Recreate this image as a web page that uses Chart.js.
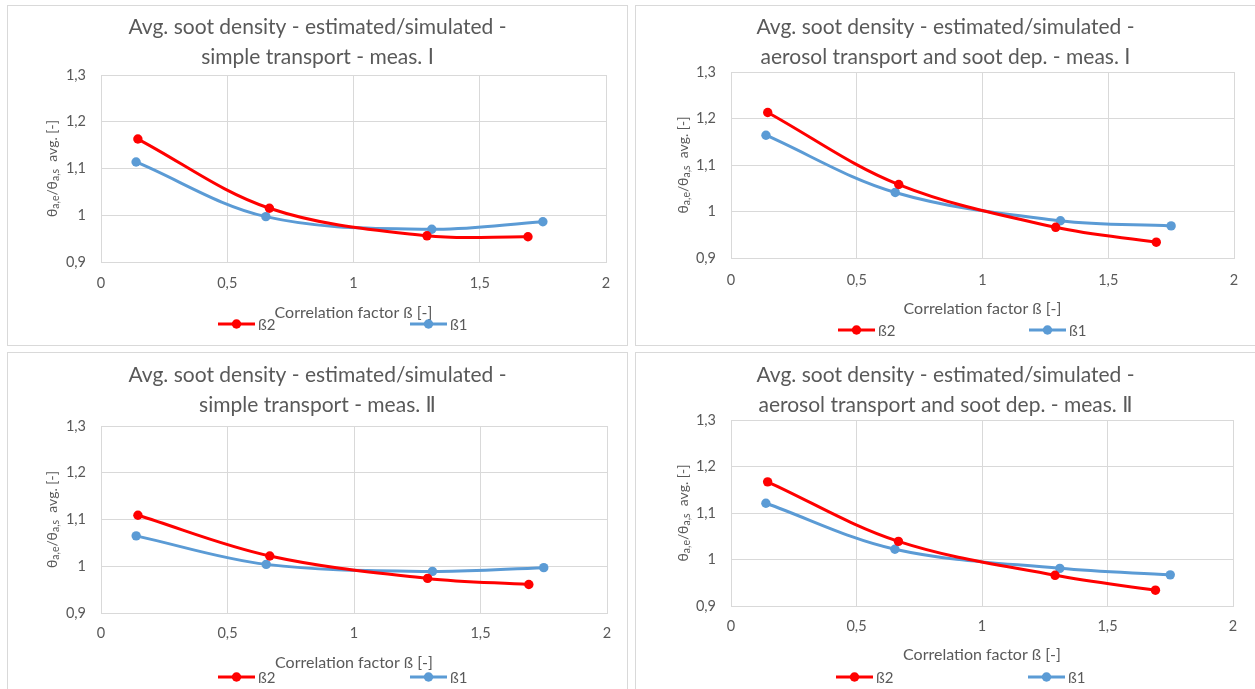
<!DOCTYPE html>
<html>
<head>
<meta charset="utf-8">
<script src="https://cdn.jsdelivr.net/npm/chart.js@4.4.0/dist/chart.umd.min.js"></script>
<style>
  html, body { margin: 0; padding: 0; background: #fff; overflow: hidden; width: 1255px; height: 689px; }
  .panel { position: absolute; border: 1px solid #d9d9d9; background: #fff; box-sizing: border-box; }
  .panel canvas { position: absolute; left: 0; top: 0; }
</style>
</head>
<body>
<div class="panel" style="left:7px;top:5px;width:621px;height:341px"><canvas id="c1" width="619" height="339"></canvas></div>
<div class="panel" style="left:635px;top:5px;width:622px;height:341px"><canvas id="c2" width="619" height="339"></canvas></div>
<div class="panel" style="left:7px;top:352px;width:621px;height:345px"><canvas id="c3" width="619" height="339"></canvas></div>
<div class="panel" style="left:635px;top:352px;width:622px;height:345px"><canvas id="c4" width="619" height="339"></canvas></div>
<script>
// Correlation factor ß at which each series was evaluated
const betaX_b2 = [0.146, 0.667, 1.291, 1.691];
const betaX_b1 = [0.139, 0.653, 1.310, 1.750];

// Ratio estimated / simulated average soot density
const simpleI_b2   = [1.163, 1.015, 0.956, 0.954];
const simpleI_b1   = [1.114, 0.997, 0.970, 0.986];
const aerosolI_b2  = [1.213, 1.058, 0.966, 0.934];
const aerosolI_b1  = [1.164, 1.041, 0.980, 0.969];
const simpleII_b2  = [1.109, 1.022, 0.974, 0.961];
const simpleII_b1  = [1.065, 1.004, 0.989, 0.997];
const aerosolII_b2 = [1.167, 1.039, 0.966, 0.934];
const aerosolII_b1 = [1.121, 1.022, 0.981, 0.967];

// Series and axis labels
const seriesNames = ['ß2', 'ß1'];
const titleLine1 = 'Avg. soot density - estimated/simulated -';
const titleLines2 = [
  'simple transport - meas. Ⅰ',
  'aerosol transport and soot dep. - meas. Ⅰ',
  'simple transport - meas. Ⅱ',
  'aerosol transport and soot dep. - meas. Ⅱ'
];
const xAxisTitle = 'Correlation factor ß [-]';
const yTitleParts = [
  { t: 'θ' }, { t: 'a,e', sub: true }, { t: '/θ' }, { t: 'a,s', sub: true }, { t: '  avg. [-]' }
];
const xRange = [0, 2, 0.5];
const yRange = [0.9, 1.3, 0.1];

const FONT = "Lato, 'DejaVu Sans', sans-serif";
const TEXT = '#595959';
const GRID = '#d9d9d9';
const RED = '#ff0000';
const BLUE = '#5b9bd5';

const pair = (xs, ys) => xs.map((x, i) => ({ x: x, y: ys[i] }));
const comma = v => String(Math.round(v * 10) / 10).replace('.', ',');

// Vertical axis title with subscripts
const yTitlePlugin = {
  id: 'yTitle',
  afterDraw(chart, args, opts) {
    const ctx = chart.ctx;
    const ca = chart.chartArea;
    const main = '14px ' + FONT, sub = '10.5px ' + FONT;
    ctx.save();
    let total = 0;
    yTitleParts.forEach(p => { ctx.font = p.sub ? sub : main; total += ctx.measureText(p.t).width; });
    ctx.translate(opts.x, (ca.top + ca.bottom) / 2);
    ctx.rotate(-Math.PI / 2);
    ctx.fillStyle = TEXT;
    ctx.textBaseline = 'middle';
    ctx.textAlign = 'left';
    let pos = -total / 2;
    yTitleParts.forEach(p => {
      ctx.font = p.sub ? sub : main;
      ctx.fillText(p.t, pos, p.sub ? 3.5 : 0);
      pos += ctx.measureText(p.t).width;
    });
    ctx.restore();
  }
};

// Legend: short line with a marker, followed by the series name
const lineLegendPlugin = {
  id: 'lineLegend',
  afterDraw(chart, args, opts) {
    const ctx = chart.ctx;
    ctx.save();
    chart.data.datasets.forEach((ds, i) => {
      const x0 = opts.x[i], y = opts.y;
      ctx.strokeStyle = ds.borderColor;
      ctx.lineWidth = 3;
      ctx.beginPath();
      ctx.moveTo(x0, y);
      ctx.lineTo(x0 + 37, y);
      ctx.stroke();
      ctx.fillStyle = ds.borderColor;
      ctx.beginPath();
      ctx.arc(x0 + 18.5, y, 4.7, 0, Math.PI * 2);
      ctx.fill();
      ctx.fillStyle = TEXT;
      ctx.font = '15px ' + FONT;
      ctx.textBaseline = 'middle';
      ctx.textAlign = 'left';
      ctx.fillText(ds.label, x0 + 40, y + 1);
    });
    ctx.restore();
  }
};

function makePanel(id, line2, b2, b1, L) {
  new Chart(document.getElementById(id), {
    type: 'scatter',
    data: {
      datasets: [
        { label: seriesNames[0], data: pair(betaX_b2, b2), borderColor: RED, backgroundColor: RED },
        { label: seriesNames[1], data: pair(betaX_b1, b1), borderColor: BLUE, backgroundColor: BLUE }
      ]
    },
    options: {
      responsive: false,
      animation: false,
      devicePixelRatio: 1,
      showLine: true,
      elements: {
        line: { borderWidth: 3, tension: 0.35, fill: false },
        point: { radius: 4.7, borderWidth: 0, hoverRadius: 4.7 }
      },
      layout: { padding: 0 },
      plugins: {
        legend: { display: false },
        tooltip: { enabled: false },
        title: {
          display: true,
          text: [titleLine1, line2],
          color: TEXT,
          font: { family: FONT, size: 21, weight: 'normal', lineHeight: 30 / 21 },
          padding: { top: L.titleTop, bottom: L.titleBottom }
        },
        yTitle: { x: L.yTitleX },
        lineLegend: { x: L.legendX, y: L.legendY }
      },
      scales: {
        x: {
          type: 'linear',
          min: xRange[0], max: xRange[1],
          afterFit: s => { s.height = L.xHeight; },
          ticks: { stepSize: xRange[2], color: TEXT, padding: L.xTickPad, font: { family: FONT, size: 14.5 }, callback: comma },
          grid: { color: GRID, lineWidth: 1, drawTicks: false },
          border: { display: true, color: GRID, width: 1 },
          title: {
            display: true, text: xAxisTitle, color: TEXT,
            font: { family: FONT, size: 16, lineHeight: 1.2 },
            padding: { top: 0, bottom: L.xTitlePad }
          }
        },
        y: {
          type: 'linear',
          min: yRange[0], max: yRange[1],
          afterFit: s => { s.width = L.yWidth; },
          ticks: { stepSize: yRange[2], color: TEXT, padding: 15, font: { family: FONT, size: 14.5 }, callback: comma },
          grid: { color: GRID, lineWidth: 1, drawTicks: false },
          border: { display: true, color: GRID, width: 1 }
        },
        // empty margin on the right of the plot, keeps the title centred on the panel
        yRightMargin: {
          type: 'linear',
          position: 'right',
          display: true,
          afterFit: s => { s.width = L.right; },
          ticks: { display: false },
          grid: { display: false, drawTicks: false },
          border: { display: false }
        }
      }
    },
    plugins: [yTitlePlugin, lineLegendPlugin]
  });
}

makePanel('c1', titleLines2[0], simpleI_b2, simpleI_b1,
  { right: 21, titleTop: 6, titleBottom: 3, yWidth: 93, xHeight: 83, xTickPad: 13, xTitlePad: 23, yTitleX: 44, legendX: [210, 402], legendY: 318 });
makePanel('c2', titleLines2[1], aerosolI_b2, aerosolI_b1,
  { right: 21, titleTop: 6, titleBottom: 0, yWidth: 95, xHeight: 87, xTickPad: 14, xTitlePad: 27, yTitleX: 47, legendX: [202, 393], legendY: 324 });
makePanel('c3', titleLines2[2], simpleII_b2, simpleII_b1,
  { right: 20, titleTop: 7, titleBottom: 6, yWidth: 93, xHeight: 79, xTickPad: 12, xTitlePad: 20, yTitleX: 44, legendX: [210, 402], legendY: 324 });
makePanel('c4', titleLines2[3], aerosolII_b2, aerosolII_b1,
  { right: 22, titleTop: 7, titleBottom: 0, yWidth: 95, xHeight: 86, xTickPad: 12, xTitlePad: 28, yTitleX: 47, legendX: [200, 392], legendY: 324 });
</script>
</body>
</html>
